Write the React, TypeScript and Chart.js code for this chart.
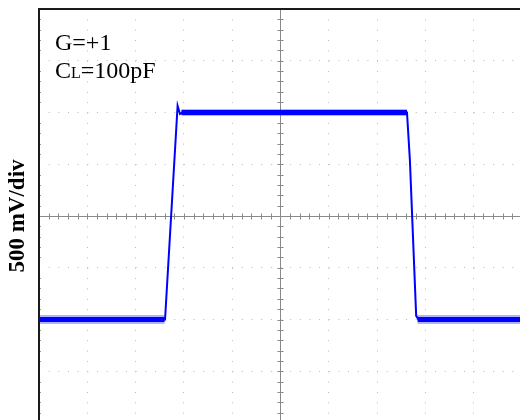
import React, { useEffect, useRef } from "react";
import { Chart, registerables } from "chart.js";

Chart.register(...registerables);

// Screen divisions (oscilloscope graticule)
const X_DIVS = [0, 1, 2, 3, 4, 5, 6, 7, 8, 9, 10];
const Y_DIVS = [-4, -3, -2, -1, 0, 1, 2, 3, 4];
const X_MIN = 0;
const X_MAX = 9.96;
const Y_MIN = -3.942;
const Y_MAX = 4;
const MINOR_PER_DIV = 5;

// Main trace (divisions)
const TRACE_X = [0, 2.61, 2.87, 2.92, 2.97, 7.62, 7.68, 7.81, 7.86, 9.96];
const TRACE_Y = [-2.0, -2.0, 2.13, 1.97, 2.0, 2.0, 1.08, -1.93, -2.0, -2.0];

// Noisy plateau bands
const HIGH_X = [2.95, 7.62];
const HIGH_Y = [2.0, 2.0];
const LOW_A_X = [0, 2.6];
const LOW_B_X = [7.84, 9.96];
const LOW_Y = [-2.0, -2.0];

// Texts
const Y_TITLE = "500 mV/div";
const NOTE_1 = "G=+1";
const NOTE_2_MAIN = "C";
const NOTE_2_SUB = "L";
const NOTE_2_REST = "=100pF";

const BLUE = "rgb(0,0,255)";

const pts = (xs: number[], ys: number[]) => xs.map((x, i) => ({ x, y: ys[i] }));

const scopePlugin = {
  id: "scope",
  beforeDatasetsDraw(chart: any) {
    const { ctx, chartArea: a, scales } = chart;
    const xs = scales.x;
    const ys = scales.y;
    const cx = Math.round(xs.getPixelForValue(5)) + 0.5;
    const cy = Math.round(ys.getPixelForValue(0)) + 0.5;
    ctx.save();
    ctx.strokeStyle = "#8a8a8a";
    ctx.lineWidth = 1;
    ctx.beginPath();
    ctx.moveTo(a.left, cy);
    ctx.lineTo(a.right, cy);
    ctx.moveTo(cx, a.top);
    ctx.lineTo(cx, a.bottom);
    for (let d = X_DIVS[0]; d < X_DIVS[X_DIVS.length - 1]; d++) {
      for (let m = 0; m < MINOR_PER_DIV; m++) {
        const px = Math.round(xs.getPixelForValue(d + m / MINOR_PER_DIV)) + 0.5;
        if (px < a.left || px > a.right) continue;
        ctx.moveTo(px, cy - 3);
        ctx.lineTo(px, cy + 3);
      }
    }
    for (let d = Y_DIVS[0]; d < Y_DIVS[Y_DIVS.length - 1]; d++) {
      for (let m = 0; m < MINOR_PER_DIV; m++) {
        const py = Math.round(ys.getPixelForValue(d + m / MINOR_PER_DIV)) + 0.5;
        if (py < a.top || py > a.bottom) continue;
        ctx.moveTo(cx - 3, py);
        ctx.lineTo(cx + 3, py);
      }
    }
    ctx.stroke();
    ctx.restore();
  },
  afterDraw(chart: any) {
    const { ctx, chartArea: a, scales } = chart;
    const ys = scales.y;
    ctx.save();
    ctx.fillStyle = "#1a1a1a";
    ctx.fillRect(a.left - 1, a.top - 1, a.right - a.left + 1, 2);
    ctx.fillRect(a.left - 1, a.top - 1, 2, a.bottom - a.top + 1);
    ctx.fillStyle = "#9a9a9a";
    for (let d = Y_DIVS[0]; d < Y_DIVS[Y_DIVS.length - 1]; d++) {
      for (let m = 1; m < MINOR_PER_DIV; m++) {
        const py = Math.round(ys.getPixelForValue(d + m / MINOR_PER_DIV));
        if (py < a.top || py > a.bottom) continue;
        ctx.fillRect(a.left + 1, py, 1, 1);
      }
    }
    ctx.fillStyle = "#000";
    ctx.textBaseline = "alphabetic";
    ctx.textAlign = "left";
    ctx.font = '24px "Liberation Serif"';
    ctx.fillText(NOTE_1, 55, 50);
    let x = 55;
    ctx.fillText(NOTE_2_MAIN, x, 78);
    x += ctx.measureText(NOTE_2_MAIN).width;
    ctx.font = '16px "Liberation Serif"';
    ctx.fillText(NOTE_2_SUB, x, 78);
    x += ctx.measureText(NOTE_2_SUB).width;
    ctx.font = '24px "Liberation Serif"';
    ctx.fillText(NOTE_2_REST, x, 78);
    ctx.translate(24, 216);
    ctx.rotate(-Math.PI / 2);
    ctx.textAlign = "center";
    ctx.font = 'bold 23px "Liberation Serif"';
    ctx.fillText(Y_TITLE, 0, 0);
    ctx.restore();
  },
};

export default function App() {
  const ref = useRef<HTMLCanvasElement | null>(null);
  useEffect(() => {
    if (!ref.current) return;
    const band = (xs: number[], ys: number[], color: string, w: number) => ({
      data: pts(xs, ys),
      borderColor: color,
      borderWidth: w,
      pointRadius: 0,
    });
    const chart = new Chart(ref.current, {
      type: "line",
      data: {
        datasets: [
          band(LOW_A_X, LOW_Y, "rgba(0,0,255,0.3)", 9),
          band(LOW_B_X, LOW_Y, "rgba(0,0,255,0.3)", 9),
          band(LOW_A_X, LOW_Y, BLUE, 5),
          band(LOW_B_X, LOW_Y, BLUE, 5),
          band(HIGH_X, HIGH_Y, "rgba(0,0,255,0.3)", 7),
          band(HIGH_X, HIGH_Y, BLUE, 5),
          {
            data: pts(TRACE_X, TRACE_Y),
            borderColor: BLUE,
            borderWidth: 2,
            pointRadius: 0,
            tension: 0,
          },
        ],
      },
      options: {
        animation: false,
        responsive: false,
        events: [],
        layout: { padding: { left: 39, top: 9, right: 0, bottom: 0 } },
        plugins: { legend: { display: false }, tooltip: { enabled: false } },
        scales: {
          x: {
            type: "linear",
            min: X_MIN,
            max: X_MAX,
            afterBuildTicks: (s: any) => {
              s.ticks = X_DIVS.map((v) => ({ value: v }));
            },
            afterFit: (s: any) => {
              s.height = 0;
            },
            ticks: { display: false },
            grid: { drawTicks: false, color: "#b8b8b8", lineWidth: 1 },
            border: { display: false, dash: [1, 9.35] },
          },
          y: {
            type: "linear",
            min: Y_MIN,
            max: Y_MAX,
            afterBuildTicks: (s: any) => {
              s.ticks = Y_DIVS.map((v) => ({ value: v }));
            },
            afterFit: (s: any) => {
              s.width = 0;
            },
            ticks: { display: false },
            grid: { drawTicks: false, color: "#b8b8b8", lineWidth: 1 },
            border: { display: false, dash: [1, 8.66] },
          },
        },
      },
      plugins: [scopePlugin],
    });
    return () => chart.destroy();
  }, []);
  return (
    <div style={{ position: "fixed", left: 0, top: 0, width: 520, height: 420, background: "#fff" }}>
      <canvas ref={ref} width={520} height={420} style={{ display: "block" }} />
    </div>
  );
}
